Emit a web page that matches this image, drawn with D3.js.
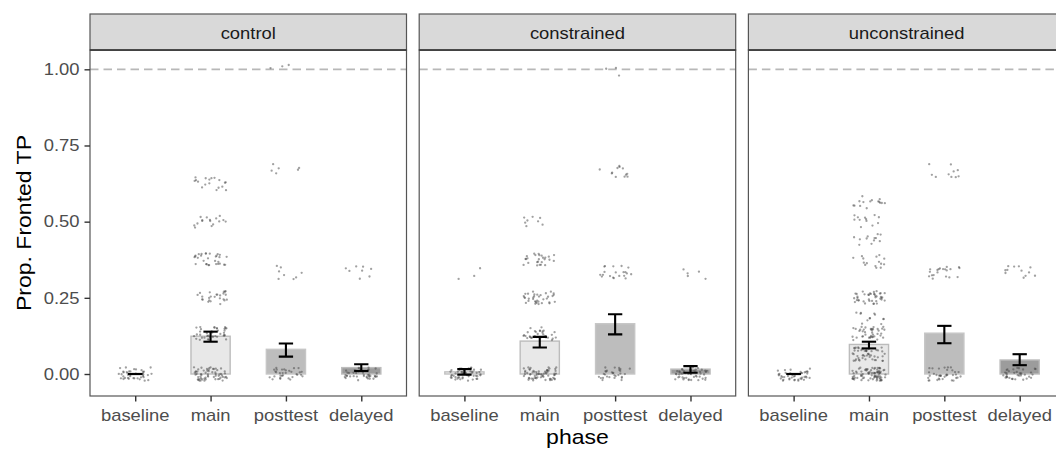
<!DOCTYPE html>
<html>
<head>
<meta charset="utf-8">
<script src="https://cdn.jsdelivr.net/npm/d3@7"></script>
<style>
  body { margin: 0; background: #fff; }
  svg { display: block; }
  text { font-family: "Liberation Sans", Arial, sans-serif; }
</style>
</head>
<body>
<script>
var width = 1056;
var height = 450;

var conditions = ["control", "constrained", "unconstrained"];
var phases = ["baseline", "main", "posttest", "delayed"];

// bar heights (mean prop.) and error bar limits, one value per phase
var controlMean = [0.000, 0.124, 0.081, 0.021];
var controlLow = [0.000, 0.106, 0.057, 0.010];
var controlHigh = [0.000, 0.139, 0.100, 0.032];

var constrainedMean = [0.007, 0.108, 0.165, 0.016];
var constrainedLow = [-0.002, 0.087, 0.130, 0.004];
var constrainedHigh = [0.016, 0.122, 0.196, 0.026];

var unconstrainedMean = [0.000, 0.097, 0.134, 0.046];
var unconstrainedLow = [0.000, 0.084, 0.101, 0.029];
var unconstrainedHigh = [0.000, 0.106, 0.158, 0.065];

// raw per-participant points: [value, how many] for each phase
var controlPoints = [
  [[0, 40]],
  [[0, 60], [0.133, 40], [0.25, 25], [0.375, 30], [0.5, 16], [0.625, 18]],
  [[0, 32], [0.333, 8], [0.667, 6], [1, 3]],
  [[0, 42], [0.333, 8]]
];
var constrainedPoints = [
  [[0, 50], [0.333, 3]],
  [[0, 65], [0.133, 32], [0.25, 35], [0.375, 26], [0.5, 8]],
  [[0, 30], [0.333, 20], [0.667, 12], [1, 3]],
  [[0, 48], [0.333, 5]]
];
var unconstrainedPoints = [
  [[0, 42]],
  [[0, 80], [0.065, 50], [0.133, 40], [0.18, 12], [0.25, 40], [0.37, 15], [0.44, 12], [0.5, 12], [0.565, 15]],
  [[0, 36], [0.333, 20], [0.667, 10]],
  [[0, 36], [0.333, 12]]
];

var yTicks = [0, 0.25, 0.5, 0.75, 1];

var means = [controlMean, constrainedMean, unconstrainedMean];
var lows = [controlLow, constrainedLow, unconstrainedLow];
var highs = [controlHigh, constrainedHigh, unconstrainedHigh];
var pointSets = [controlPoints, constrainedPoints, unconstrainedPoints];

var barFill = {baseline: "#f2f2f2", main: "#e8e8e8", posttest: "#bdbdbd", delayed: "#9c9c9c"};
var barStroke = {baseline: "#c0c0c0", main: "#bcbcbc", posttest: "#c6c6c6", delayed: "#bdbdbd"};

var panelLeft = 90, panelW = 316.5, panelGap = 12.7;
var stripTop = 14, stripBottom = 50, plotBottom = 396;
var stretch = 1.15; // glyphs in the reference are a bit wider than Arial

var svg = d3.select("body").append("svg")
  .attr("width", width)
  .attr("height", height);

var y = d3.scaleLinear().domain([-0.0722, 1.0634]).range([plotBottom, stripBottom]);
var x = d3.scalePoint().domain(phases).range([0, panelW]).padding(0.6);
var step = x.step();

// jitter only moves points around their real value (like geom_jitter), seeded so it is stable
var rnd = d3.randomUniform.source(d3.randomLcg(0.42))(-1, 1);

function label(g, txt, tx, ty, size, fill, anchor, extra) {
  return g.append("text")
    .attr("transform", "translate(" + tx + "," + ty + ")" + (extra || "") + " scale(" + stretch + ",1)")
    .attr("font-size", size)
    .attr("fill", fill)
    .attr("text-anchor", anchor)
    .text(txt);
}

conditions.forEach(function (cond, ci) {
  var x0 = panelLeft + ci * (panelW + panelGap);
  var g = svg.append("g").attr("transform", "translate(" + x0 + ",0)");

  var clipId = "clip" + ci;
  g.append("clipPath").attr("id", clipId)
    .append("rect").attr("x", 0).attr("y", stripBottom)
    .attr("width", panelW).attr("height", plotBottom - stripBottom);

  var plot = g.append("g").attr("clip-path", "url(#" + clipId + ")");

  // reference line at 1
  plot.append("line")
    .attr("x1", 0).attr("x2", panelW)
    .attr("y1", y(1)).attr("y2", y(1))
    .attr("stroke", "#b8b8b8")
    .attr("stroke-width", 1.7)
    .attr("stroke-dasharray", "8.5,5");

  var rows = phases.map(function (p, i) {
    return {phase: p, mean: means[ci][i], lo: lows[ci][i], hi: highs[ci][i]};
  });

  plot.selectAll("rect.bar")
    .data(rows)
    .enter().append("rect")
    .attr("class", "bar")
    .attr("x", function (d) { return x(d.phase) - step * 0.26; })
    .attr("width", step * 0.52)
    .attr("y", function (d) { return y(Math.max(d.mean, 0)); })
    .attr("height", function (d) { return Math.abs(y(0) - y(d.mean)); })
    .attr("fill", function (d) { return barFill[d.phase]; })
    .attr("stroke", function (d) { return barStroke[d.phase]; })
    .attr("stroke-width", 1.4);

  var pts = [];
  phases.forEach(function (p, i) {
    pointSets[ci][i].forEach(function (c) {
      for (var k = 0; k < c[1]; k++) {
        pts.push({phase: p, value: c[0], jx: rnd() * 0.22, jy: rnd() * 0.022});
      }
    });
  });

  plot.selectAll("circle.pt")
    .data(pts)
    .enter().append("circle")
    .attr("class", "pt")
    .attr("cx", function (d) { return x(d.phase) + d.jx * step; })
    .attr("cy", function (d) { return y(d.value + d.jy); })
    .attr("r", 1.15)
    .attr("fill", "#444")
    .attr("fill-opacity", 0.5);

  var eb = plot.selectAll("g.err").data(rows).enter().append("g").attr("class", "err")
    .attr("stroke", "#000").attr("stroke-width", 2.1).attr("fill", "none");
  var capW = step * 0.095;
  eb.append("line")
    .attr("x1", function (d) { return x(d.phase); })
    .attr("x2", function (d) { return x(d.phase); })
    .attr("y1", function (d) { return y(d.lo); })
    .attr("y2", function (d) { return y(d.hi); });
  eb.append("line")
    .attr("x1", function (d) { return x(d.phase) - capW; })
    .attr("x2", function (d) { return x(d.phase) + capW; })
    .attr("y1", function (d) { return y(d.lo); })
    .attr("y2", function (d) { return y(d.lo); });
  eb.append("line")
    .attr("x1", function (d) { return x(d.phase) - capW; })
    .attr("x2", function (d) { return x(d.phase) + capW; })
    .attr("y1", function (d) { return y(d.hi); })
    .attr("y2", function (d) { return y(d.hi); });

  // panel border
  g.append("rect")
    .attr("x", 0).attr("y", stripBottom)
    .attr("width", panelW).attr("height", plotBottom - stripBottom)
    .attr("fill", "none").attr("stroke", "#555").attr("stroke-width", 1.2);

  // strip
  g.append("rect")
    .attr("x", 0).attr("y", stripTop)
    .attr("width", panelW).attr("height", stripBottom - stripTop)
    .attr("fill", "#d9d9d9").attr("stroke", "#555").attr("stroke-width", 1.2);
  g.append("line")
    .attr("x1", 0).attr("x2", panelW)
    .attr("y1", stripBottom).attr("y2", stripBottom)
    .attr("stroke", "#333").attr("stroke-width", 1.6);
  label(g, cond, panelW / 2, 39, 16, "#1a1a1a", "middle");

  // x axis
  var xAxis = g.append("g")
    .attr("transform", "translate(0," + plotBottom + ")")
    .call(d3.axisBottom(x).tickSize(5.5).tickPadding(3).tickFormat(""));
  xAxis.select(".domain").remove();
  xAxis.selectAll(".tick line").attr("stroke", "#333").attr("stroke-width", 1.4);
  phases.forEach(function (p) {
    label(g, p, x(p), 420.5, 16, "#4d4d4d", "middle");
  });

  // y axis on first panel only
  if (ci === 0) {
    var yAxis = g.append("g")
      .call(d3.axisLeft(y).tickValues(yTicks).tickSize(5.5).tickFormat(""));
    yAxis.select(".domain").remove();
    yAxis.selectAll(".tick line").attr("stroke", "#333").attr("stroke-width", 1.4);
    yTicks.forEach(function (t) {
      label(g, d3.format(".2f")(t), -10.5, y(t) + 5.8, 16, "#4d4d4d", "end");
    });
  }
});

// axis titles
label(svg, "phase", panelLeft + 1.5 * panelW + panelGap, 444, 20, "#000", "middle");
label(svg, "Prop. Fronted TP", 31, 223, 20, "#000", "middle", " rotate(-90)");
</script>
</body>
</html>
